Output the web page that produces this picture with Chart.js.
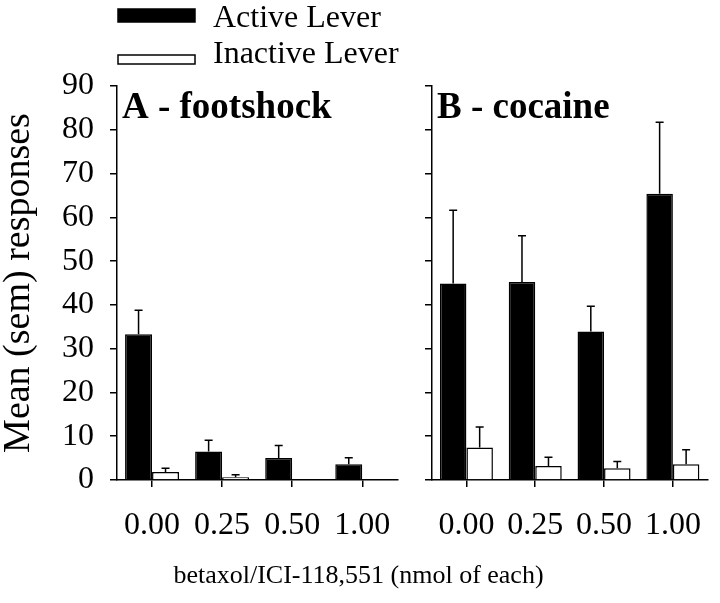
<!DOCTYPE html>
<html>
<head>
<meta charset="utf-8">
<script src="https://cdn.jsdelivr.net/npm/chart.js@4"></script>
<style>
  html, body { margin: 0; padding: 0; background: #fff; }
  #wrap { position: relative; width: 720px; height: 603px; overflow: hidden; }
  #left { position: absolute; left: 0; top: 0; width: 410px; height: 603px; }
  #right { position: absolute; left: 410px; top: 0; width: 310px; height: 603px; }
  #xtitle { position: absolute; left: 0; width: 717px; top: 560px; text-align: center;
            font: 26px 'Liberation Serif', serif; color: #000; }
</style>
</head>
<body>
<div id="wrap">
  <div id="left"><canvas id="chartA"></canvas></div>
  <div id="right"><canvas id="chartB"></canvas></div>
  <div id="xtitle">betaxol/ICI-118,551 (nmol of each)</div>
</div>
<script>
// dose groups (nmol of each)
const doses = ['0.00', '0.25', '0.50', '1.00'];

// A - footshock
const footActive = [33.3, 6.5, 5.0, 3.6];
const footActiveSem = [5.5, 2.6, 2.9, 1.5];
const footInactive = [1.8, 0.6, 0, 0];
const footInactiveSem = [0.9, 0.6, 0, 0];

// B - cocaine
const cocActive = [44.9, 45.2, 33.9, 65.4];
const cocActiveSem = [16.7, 10.6, 5.8, 16.3];
const cocInactive = [7.4, 3.2, 2.7, 3.6];
const cocInactiveSem = [4.7, 2.0, 1.5, 3.3];

const yMin = 0, yMax = 90, yStep = 10;

const serif = "'Liberation Serif', 'Times New Roman', serif";

// upper-only sem bars with a small cap
const semBars = {
  id: 'semBars',
  afterDatasetsDraw(chart) {
    const ctx = chart.ctx;
    const y = chart.scales.y;
    ctx.save();
    ctx.strokeStyle = '#000';
    ctx.lineWidth = 1.5;
    chart.data.datasets.forEach(function(ds, i){
      chart.getDatasetMeta(i).data.forEach(function(bar, j){
        const e = ds.sem[j];
        if(!e) return;
        const top = y.getPixelForValue(ds.data[j] + e);
        ctx.beginPath();
        ctx.moveTo(bar.x, bar.y);
        ctx.lineTo(bar.x, top);
        ctx.moveTo(bar.x - 4, top);
        ctx.lineTo(bar.x + 4, top);
        ctx.stroke();
      });
    });
    ctx.restore();
  }
};

// panel letter inside the plot area
const panelLabel = {
  id: 'panelLabel',
  afterDraw(chart, args, opts) {
    const ctx = chart.ctx, a = chart.chartArea;
    ctx.save();
    ctx.font = 'bold 37px ' + serif;
    ctx.fillStyle = '#000';
    ctx.textBaseline = 'alphabetic';
    ctx.fillText(opts.text, a.left + 5, a.top + 32);
    ctx.restore();
  }
};

// stacked legend in the top-left corner
const stackLegend = {
  id: 'stackLegend',
  afterDraw(chart, args, opts) {
    if(!opts.show) return;
    const ctx = chart.ctx;
    ctx.save();
    ctx.font = '32px ' + serif;
    ctx.textBaseline = 'alphabetic';
    chart.data.datasets.forEach(function(ds, i){
      const box = opts.boxes[i];
      ctx.fillStyle = ds.backgroundColor;
      ctx.fillRect(118, box[0], 77, box[1]);
      ctx.strokeStyle = '#000';
      ctx.lineWidth = 1.5;
      ctx.strokeRect(118, box[0], 77, box[1]);
      ctx.fillStyle = '#000';
      ctx.fillText(ds.label, 213, box[2]);
    });
    ctx.restore();
  }
};

function makeDatasets(act, actSem, inact, inactSem){
  return [
    { label: 'Active Lever', data: act, sem: actSem, backgroundColor: '#000', borderColor: '#000', borderWidth: 1.5,
      categoryPercentage: 0.77, barPercentage: 1.0 },
    { label: 'Inactive Lever', data: inact, sem: inactSem, backgroundColor: '#fff', borderColor: '#000', borderWidth: 1.5,
      categoryPercentage: 0.77, barPercentage: 1.0 }
  ];
}

function makeOptions(showLabels, yWidth, padRight, panel, legend){
  const axisGrid = { drawOnChartArea: false, drawTicks: true, tickLength: 7, color: '#000', lineWidth: 1.5 };
  return {
    responsive: true,
    maintainAspectRatio: false,
    animation: false,
    layout: { padding: { top: 86, right: padRight, left: 0, bottom: 0 } },
    plugins: {
      legend: { display: false },
      tooltip: { enabled: false },
      panelLabel: { text: panel },
      stackLegend: { show: legend, boxes: [[9, 13, 27], [55, 9, 63]] }
    },
    scales: {
      x: {
        offset: true,
        grid: Object.assign({ offset: false }, axisGrid),
        border: { display: true, color: '#000', width: 1.5 },
        ticks: { color: '#000', font: { family: serif, size: 32 }, padding: 19, maxRotation: 0, autoSkip: false },
        afterFit(s){ s.height = 123; }
      },
      y: {
        min: yMin, max: yMax,
        grid: axisGrid,
        border: { display: true, color: '#000', width: 1.5 },
        ticks: {
          stepSize: yStep, color: '#000', padding: 16,
          font: { family: serif, size: 32 },
          callback: function(v){ return showLabels ? v : ''; }
        },
        title: {
          display: showLabels, text: 'Mean (sem) responses', color: '#000',
          font: { family: serif, size: 38, lineHeight: 1 }, padding: 0
        },
        afterFit(s){ s.width = yWidth; }
      }
    }
  };
}

new Chart(document.getElementById('chartA').getContext('2d'), {
  type: 'bar',
  data: { labels: doses, datasets: makeDatasets(footActive, footActiveSem, footInactive, footInactiveSem) },
  options: makeOptions(true, 117, 6, 'A - footshock', true),
  plugins: [semBars, panelLabel, stackLegend]
});

new Chart(document.getElementById('chartB').getContext('2d'), {
  type: 'bar',
  data: { labels: doses, datasets: makeDatasets(cocActive, cocActiveSem, cocInactive, cocInactiveSem) },
  options: makeOptions(false, 22, 1, 'B - cocaine', false),
  plugins: [semBars, panelLabel, stackLegend]
});
</script>
</body>
</html>
